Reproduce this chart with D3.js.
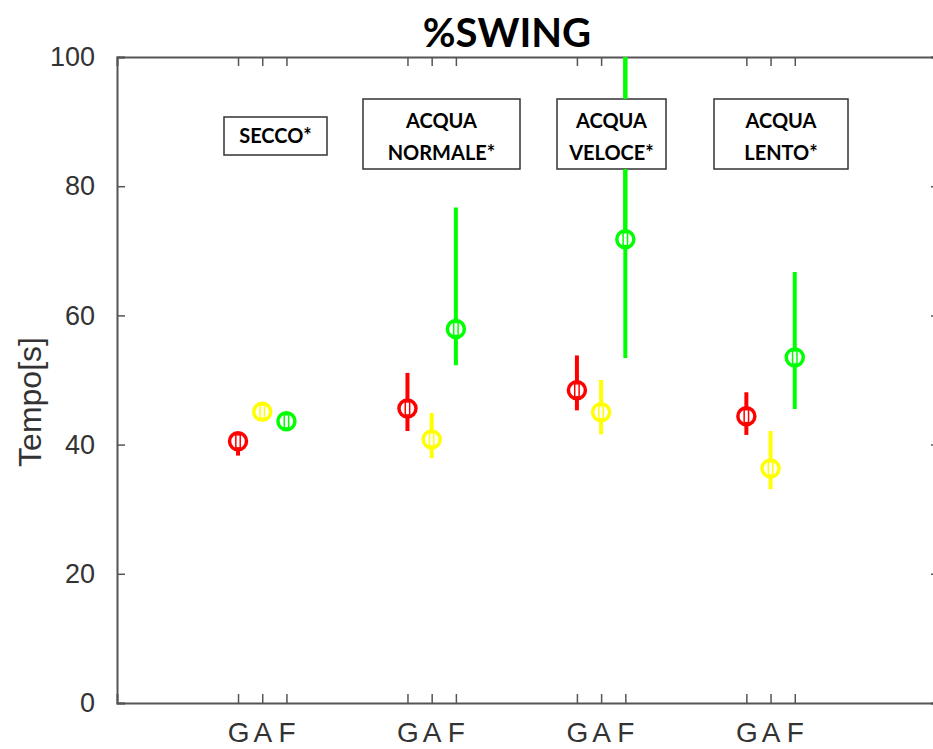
<!DOCTYPE html>
<html>
<head>
<meta charset="utf-8">
<script src="https://d3js.org/d3.v7.min.js"></script>
<style>
  body { margin: 0; background: #fff; }
  .tick text { font-family: "Liberation Sans", Arial, sans-serif; }
  .note text { font-family: Lato, "Open Sans", sans-serif; font-weight: bold; font-size: 20px; }
</style>
</head>
<body>
<svg width="933" height="749"></svg>
<script>
// conditions (one text box each) and subjects inside each condition
const groups = [["SECCO*"], ["ACQUA", "NORMALE*"], ["ACQUA", "VELOCE*"], ["ACQUA", "LENTO*"]];
const subjects = ["G", "A", "F"];
const colors = ["#ff0000", "#ffff00", "#00ff00"];

// mean and error bar ends, per condition, in G A F order
const means = [[40.5, 45.1, 43.6], [45.6, 40.8, 57.9], [48.4, 45.0, 71.8], [44.4, 36.3, 53.5]];
const lows  = [[38.3, 44.2, 42.8], [42.1, 37.9, 52.3], [45.3, 41.6, 53.4], [41.5, 33.1, 45.5]];
const highs = [[41.6, 46.0, 44.4], [51.1, 44.9, 76.7], [53.8, 50.0, 100], [48.1, 42.1, 66.7]];

const yTicks = [0, 20, 40, 60, 80, 100];

const svg = d3.select("svg");
const pLeft = 117, pRight = 940, pTop = 57, pBottom = 703;

// each condition takes 7 slots, subjects sit on slots 1,2,3
var x = d3.scaleLinear().domain([-4, 30]).range([pLeft, pRight]);
var y = d3.scaleLinear().domain([0, 100]).range([pBottom, pTop]);
const pos = (g, s) => g * 7 + s + 1;

var points = [];
means.forEach(function(row, g) {
  row.forEach(function(m, s) {
    points.push({g: g, s: s, m: m, lo: lows[g][s], hi: highs[g][s]});
  });
});
var tickPos = points.map(d => pos(d.g, d.s));

//title
svg.append("text")
  .attr("x", 507).attr("y", 47)
  .attr("text-anchor", "middle")
  .style("font-family", "Lato, sans-serif")
  .style("font-weight", "bold")
  .style("font-size", "40px")
  .text("%SWING");

//y axis label
svg.append("text")
  .attr("transform", "translate(41,402) rotate(-90)")
  .attr("text-anchor", "middle")
  .style("font-family", "Liberation Sans, Arial, sans-serif")
  .style("font-size", "32px")
  .style("fill", "#333")
  .text("Tempo[s]");

const axisColor = "#555";

//axes, ticks inward like matlab box
var gl = svg.append("g").attr("transform", "translate(" + pLeft + ",0)")
  .call(d3.axisLeft(y).tickValues(yTicks).tickSize(-8).tickPadding(22));
var gr = svg.append("g").attr("transform", "translate(" + pRight + ",0)")
  .call(d3.axisRight(y).tickValues(yTicks).tickSize(-9).tickFormat(""));
var gb = svg.append("g").attr("transform", "translate(0," + pBottom + ")")
  .call(d3.axisBottom(x).tickValues(tickPos).tickSize(-9).tickPadding(19)
    .tickFormat((d, i) => subjects[points[i].s]));
var gt = svg.append("g").attr("transform", "translate(0," + pTop + ")")
  .call(d3.axisTop(x).tickValues(tickPos).tickSize(-9).tickFormat(""));

[gl, gr, gb, gt].forEach(function(a) {
  a.select(".domain").attr("stroke", axisColor).attr("stroke-width", 2);
  a.selectAll(".tick line").attr("stroke", axisColor).attr("stroke-width", 1.5);
  a.selectAll(".tick text").style("font-size", "27px").attr("fill", "#333");
});
gb.selectAll(".tick text").style("font-size", "28px");

//text boxes
const boxes = [[224, 117, 103, 38], [363, 99, 157, 70], [557, 99, 109, 70], [714, 99, 134, 70]];

//error bars
var plot = svg.append("g");
plot.selectAll(".err").data(points).enter().append("line")
  .attr("class", "err")
  .attr("x1", d => x(pos(d.g, d.s))).attr("x2", d => x(pos(d.g, d.s)))
  .attr("y1", d => y(d.lo)).attr("y2", d => y(d.hi))
  .attr("stroke", d => colors[d.s])
  .attr("stroke-width", 4);

var notes = svg.append("g").attr("class", "note");
groups.forEach(function(lines, i) {
  var b = boxes[i];
  notes.append("rect")
    .attr("x", b[0]).attr("y", b[1]).attr("width", b[2]).attr("height", b[3])
    .attr("fill", "#fff").attr("stroke", "#333").attr("stroke-width", 1.5);
  lines.forEach(function(t, j) {
    notes.append("text")
      .attr("x", b[0] + b[2] / 2)
      .attr("y", b[1] + (lines.length == 1 ? b[3] / 2 + 7 : 29 + j * 32))
      .attr("text-anchor", "middle")
      .text(t);
  });
});

//green bar of VELOCE passes over its box
var tall = points.filter(d => d.hi > 95);
svg.append("g").selectAll("line").data(tall).enter().append("line")
  .attr("x1", d => x(pos(d.g, d.s))).attr("x2", d => x(pos(d.g, d.s)))
  .attr("y1", d => y(d.hi)).attr("y2", boxes[2][1])
  .attr("stroke", d => colors[d.s]).attr("stroke-width", 4);
svg.append("g").selectAll("line").data(tall).enter().append("line")
  .attr("x1", d => x(pos(d.g, d.s))).attr("x2", d => x(pos(d.g, d.s)))
  .attr("y1", boxes[2][1] + boxes[2][3]).attr("y2", d => y(d.m))
  .attr("stroke", d => colors[d.s]).attr("stroke-width", 4);

//markers
var mk = svg.append("g").selectAll("g").data(points).enter().append("g")
  .attr("transform", d => "translate(" + x(pos(d.g, d.s)) + "," + y(d.m) + ")");
mk.append("circle").attr("r", 8.5)
  .attr("fill", "#fff")
  .attr("stroke", d => colors[d.s])
  .attr("stroke-width", 3.5);
mk.append("rect")
  .attr("x", -2.2).attr("y", -6.5).attr("width", 4.4).attr("height", 13)
  .attr("fill", "none")
  .attr("stroke", d => colors[d.s])
  .attr("stroke-width", 1.5);
</script>
</body>
</html>
